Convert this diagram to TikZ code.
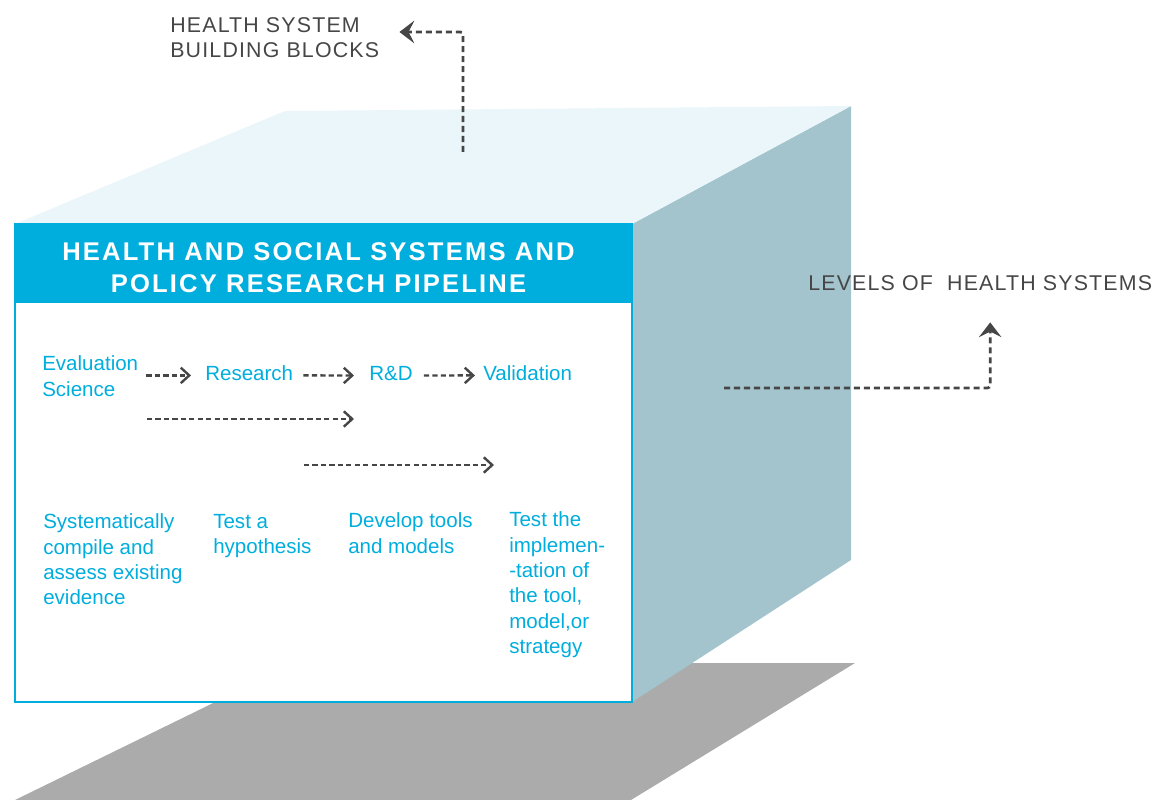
\documentclass[tikz,border=0pt]{standalone}
\usepackage{fontspec}
\setmainfont{Liberation Sans}
\newfontfamily\titlefont[LetterSpace=8.5]{Liberation Sans}
\newfontfamily\capfont[LetterSpace=5.5]{Liberation Sans}
\usepackage{tikz}
\usetikzlibrary{arrows.meta, calc}
\definecolor{pipeCyan}{RGB}{0,174,222}
\definecolor{topFace}{RGB}{234,246,250}
\definecolor{sideFace}{RGB}{163,196,204}
\definecolor{floorGray}{RGB}{171,171,171}
\definecolor{leadGray}{RGB}{70,70,70}
\tikzset{
  stage/.style={anchor=north west, inner sep=0pt, align=left, text=pipeCyan, font=\fontsize{14.6}{18}\selectfont},
  caption/.style={anchor=north west, inner sep=0pt, align=left, text=leadGray, font=\capfont\fontsize{15.2}{17.7}\selectfont},
  flow/.style={leadGray, line width=1.7pt, dash pattern=on 3.7pt off 2.3pt, -{Straight Barb[length=6pt, width=11pt]}},
  lead/.style={leadGray, line width=1.9pt, dash pattern=on 4.3pt off 2.8pt, rounded corners=2pt, -{Stealth[length=10.5pt, width=16pt, inset=4pt]}}
}

\begin{document}
\begin{tikzpicture}[x=0.025cm, y=-0.025cm, style={line cap = butt}]
  \useasboundingbox (0,0) rectangle (1169,800);
  % cube: floor shadow, side, top
  \fill[floorGray] (15,800) -- (631,800) -- (855,663) -- (295,663) -- cycle;
  \fill[sideFace] (632,224) -- (851,106) -- (851,560) -- (632,702) -- cycle;
  \fill[topFace] (15,224) -- (285,111) -- (851,106) -- (632,224) -- cycle;
  \filldraw[fill=white, draw=pipeCyan, line width=1.8pt] (15,224) rectangle (632,702);
  \fill[pipeCyan] (15,224) rectangle (632,303);
  \node[anchor=north, inner sep=0pt, align=center, text=white, font=\titlefont\bfseries\fontsize{18.2}{22.7}\selectfont] (title) at (318.5,242.7) {HEALTH AND SOCIAL SYSTEMS AND\\POLICY RESEARCH PIPELINE};

  \node[stage] (eval) at (42,355.6) {Evaluation\\Science};
  \node[stage] (research) at (205,365.6) {Research};
  \node[stage] (rnd) at (369,366) {R\&D};
  \node[stage] (valid) at (483,365.6) {Validation};
  \node[stage] (compile) at (43,513.6) {Systematically\\compile and\\assess existing\\evidence};
  \node[stage] (hypo) at (213,513.6) {Test a\\hypothesis};
  \node[stage] (develop) at (348,512.6) {Develop tools\\and models};
  \node[stage] (implement) at (509,511.6) {Test the\\implemen-\\-tation of\\the tool,\\model,or\\strategy};

  \draw[flow] ($(eval.east |- research.west)+(8,2)$) -- ($(research.west)+(-14,2)$);
  \draw[flow] ($(research.east)+(10,2)$) -- ($(rnd.west)+(-15,2)$);
  \draw[flow] ($(rnd.east)+(11,2)$) -- ($(valid.west)+(-8,2)$);
  \coordinate (evalOut) at (147,419);
  \coordinate (rndIn) at (354,419);
  \coordinate (researchOut) at (304,465);
  \coordinate (validIn) at (494,465);
  \draw[flow] (evalOut) -- (rndIn);
  \draw[flow] (researchOut) -- (validIn);

  \node[caption] (blocks) at (170,17.7) {HEALTH SYSTEM\\BUILDING BLOCKS};
  \node[caption] (levels) at (808,275.7) {LEVELS OF\ \ HEALTH SYSTEMS};
  \coordinate (blocksFoot) at (463,152);
  \coordinate (levelsFoot) at (724,388);
  \draw[lead] (blocksFoot) |- ($(blocks.east)+(20,-6)$);
  \draw[lead] (levelsFoot) -| ($(levels.south)+(10,31)$);
\end{tikzpicture}
\end{document}
